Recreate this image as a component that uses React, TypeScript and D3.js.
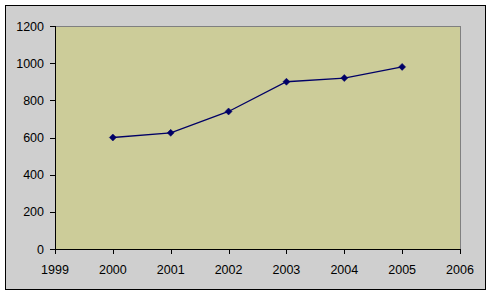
import React from "react";
import * as d3 from "d3";

const years = [2000, 2001, 2002, 2003, 2004, 2005];
const values = [600, 625, 740, 900, 920, 980];
const xTicks = [1999, 2000, 2001, 2002, 2003, 2004, 2005, 2006];
const yTicks = [0, 200, 400, 600, 800, 1000, 1200];

export default function App() {
  const W = 492, H = 296;
  const left = 55, right = 460, top = 26, bottom = 249;
  const x = d3.scaleLinear().domain([1999, 2006]).range([left, right]);
  const y = d3.scaleLinear().domain([0, 1200]).range([bottom, top]);
  const line = d3.line<number>().x((_, i) => x(years[i])).y((d) => y(d));
  const font = "'Liberation Sans', Arial, sans-serif";
  return (
    <svg width={W} height={H} style={{ position: "absolute", left: 0, top: 0 }} shapeRendering="crispEdges">
      <rect x={0} y={0} width={W} height={H} fill="#ffffff" />
      <rect x={5.5} y={5.5} width={480} height={284} fill="#cfcfcf" stroke="#000" strokeWidth={1} />
      <rect x={left} y={top} width={right - left} height={bottom - top} fill="#cccc99" />
      <line x1={left} x2={right + 0.5} y1={top + 0.5} y2={top + 0.5} stroke="#808080" />
      <line x1={right + 0.5} x2={right + 0.5} y1={top} y2={bottom} stroke="#808080" />
      <line x1={left + 0.5} x2={left + 0.5} y1={top} y2={bottom + 0.5} stroke="#000" />
      <line x1={left} x2={right + 1} y1={bottom + 0.5} y2={bottom + 0.5} stroke="#000" />
      {yTicks.map((t) => (
        <g key={t}>
          <line x1={left - 5} x2={left} y1={Math.round(y(t)) + 0.5} y2={Math.round(y(t)) + 0.5} stroke="#000" />
          <text x={44} y={y(t) + 4.5} textAnchor="end" fontFamily={font} fontSize={12.5} fill="#000">{t}</text>
        </g>
      ))}
      {xTicks.map((t) => (
        <g key={t}>
          <line x1={Math.round(x(t)) + 0.5} x2={Math.round(x(t)) + 0.5} y1={bottom} y2={bottom + 5} stroke="#000" />
          <text x={x(t)} y={274} textAnchor="middle" fontFamily={font} fontSize={12.5} fill="#000">{t}</text>
        </g>
      ))}
      <path d={line(values) || ""} fill="none" stroke="#000066" strokeWidth={1.3} shapeRendering="auto" />
      {values.map((v, i) => {
        const cx = x(years[i]), cy = y(v), r = 3.5;
        return (
          <path key={i} d={`M${cx},${cy - r}L${cx + r},${cy}L${cx},${cy + r}L${cx - r},${cy}Z`} fill="#000066" stroke="#000066" strokeWidth={0.5} shapeRendering="auto" />
        );
      })}
    </svg>
  );
}
